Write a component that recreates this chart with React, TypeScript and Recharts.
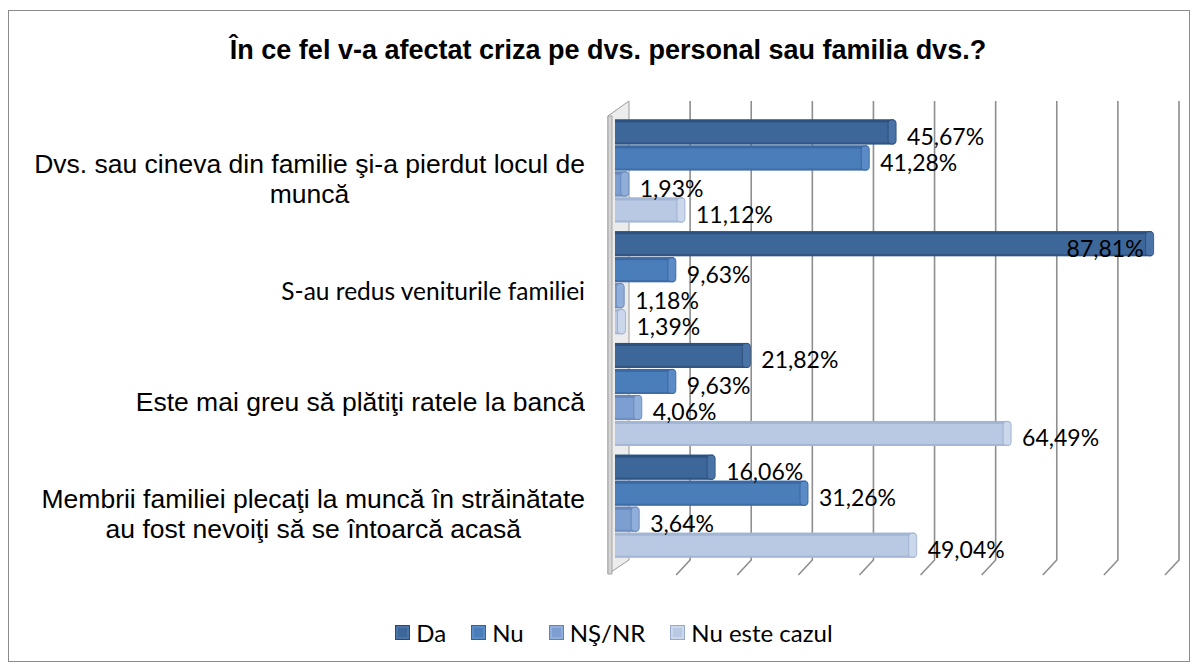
import { BarChart, Bar, XAxis, YAxis, CartesianGrid, LabelList } from "recharts";

const title = "În ce fel v-a afectat criza pe dvs. personal sau familia dvs.?";

const categories = [
  "Dvs. sau cineva din familie şi-a pierdut locul de\nmuncă",
  "S-au redus veniturile familiei",
  "Este mai greu să plătiţi ratele la bancă",
  "Membrii familiei plecaţi la muncă în străinătate\nau fost nevoiţi să se întoarcă acasă",
];

const seriesNames = ["Da", "Nu", "NŞ/NR", "Nu este cazul"];

const daValues = [45.67, 87.81, 21.82, 16.06];
const nuValues = [41.28, 9.63, 9.63, 31.26];
const nsValues = [1.93, 1.18, 4.06, 3.64];
const necValues = [11.12, 1.39, 64.49, 49.04];

const gridTicks = [0, 10, 20, 30, 40, 50, 60, 70, 80, 90];

const seriesKeys = ["da", "nu", "ns", "nec"];

const data = categories.map((name, i) => ({
  name,
  da: daValues[i],
  nu: nuValues[i],
  ns: nsValues[i],
  nec: necValues[i],
}));

const tones = [
  { base: "#3d6699", top: "#2d5282", cap: "#4a74a8", edge: "#2a4a74" },
  { base: "#4a7ebb", top: "#3b69a2", cap: "#5b8bc6", edge: "#36609a" },
  { base: "#7d9ed1", top: "#6888bb", cap: "#90aeda", edge: "#6283b6" },
  { base: "#b9c9e3", top: "#a2b5d4", cap: "#cbd7eb", edge: "#98aacb" },
];

const PLOT_RIGHT = 1156;

const fmt = (v: number) => v.toFixed(2).replace(".", ",") + "%";

function Bar3D(props: any) {
  const { x, y, width, height, tone } = props;
  if (width <= 0) return null;
  const t = tones[tone];
  const capW = Math.min(8, width + 2);
  return (
    <g>
      <rect x={x} y={y} width={width} height={height} fill={t.base} />
      <rect x={x} y={y} width={width} height={3} fill={t.top} />
      <rect x={x} y={y + height - 2} width={width} height={2} fill={t.edge} opacity={0.6} />
      <rect
        x={x + width - capW + 2}
        y={y + 0.5}
        width={capW}
        height={height - 1}
        rx={3}
        fill={t.cap}
        stroke={t.edge}
        strokeWidth={0.8}
      />
    </g>
  );
}

function ValueLabel(props: any) {
  const { x, y, width, height, value } = props;
  const text = fmt(value);
  const end = x + width;
  const inside = end + 85 > PLOT_RIGHT;
  return (
    <text
      x={inside ? end - 8 : end + 13}
      y={y + height / 2 + 4}
      textAnchor={inside ? "end" : "start"}
      dominantBaseline="central"
      fontFamily="Lato, 'Open Sans', sans-serif"
      fontWeight={400}
      fontSize={23}
      fill="#000"
    >
      {text}
    </text>
  );
}

function CategoryTick(props: any) {
  const { y, payload, index } = props;
  const lines = String(payload.value).split("\n");
  const narrow = index === 1;
  const right = 576;
  return (
    <foreignObject x={0} y={y - 60 + 8} width={right} height={120}>
      <div
        style={{
          display: "flex",
          justifyContent: "flex-end",
          alignItems: "center",
          height: "100%",
        }}
      >
        <div
          style={{
            textAlign: "center",
            whiteSpace: "nowrap",
            fontWeight: 400,
            fontFamily: narrow
              ? "Lato, 'Open Sans', sans-serif"
              : "'Liberation Sans', Arial, sans-serif",
            fontSize: narrow ? 24.5 : 26.5,
            lineHeight: "30px",
            color: "#000",
          }}
        >
          {lines.map((l, i) => (
            <div key={i}>{l}</div>
          ))}
        </div>
      </div>
    </foreignObject>
  );
}

function GridLine(props: any) {
  const { x1, y1, y2, index } = props;
  const d = `M${x1 + 14},${y1 - 14} L${x1 + 14},${y2 - 2} L${x1},${y2 + 13}`;
  if (index === 0) {
    return (
      <g>
        <polygon
          points={`${x1 - 7},${y1 + 1} ${x1 + 14},${y1 - 14} ${x1 + 14},${y2 - 2} ${x1 - 7},${y2 + 12}`}
          fill="#ececec"
          stroke="#9a9a9a"
          strokeWidth={1}
        />
        <rect x={x1 - 7} y={y1 + 1} width={4} height={y2 - y1 + 11} fill="#d4d4d4" stroke="#9a9a9a" strokeWidth={0.8} />
      </g>
    );
  }
  return <path d={d} stroke="#8e8e8e" strokeWidth={1.6} fill="none" />;
}

function LegendRow() {
  return (
    <div
      style={{
        position: "absolute",
        top: 607,
        left: 0,
        width: 1210,
        display: "flex",
        justifyContent: "center",
        gap: 25,
        fontFamily: "Lato, 'Open Sans', sans-serif",
        fontWeight: 400,
        fontSize: 24,
        color: "#000",
      }}
    >
      {seriesNames.map((n, i) => (
        <div key={n} style={{ display: "flex", alignItems: "center", gap: 6 }}>
          <span
            style={{
              width: 13,
              height: 13,
              background: tones[i].base,
              border: `1px solid ${tones[i].edge}`,
              boxShadow: `inset 0 0 0 2px ${tones[i].cap}`,
              display: "inline-block",
            }}
          />
          <span>{n}</span>
        </div>
      ))}
    </div>
  );
}

export default function App() {
  return (
    <div
      style={{
        position: "relative",
        width: 1180,
        height: 650,
        marginTop: 2,
        border: "1px solid #8c8c8c",
        background: "#fff",
      }}
    >
      <div
        style={{
          position: "absolute",
          top: 23,
          left: 0,
          width: 1198,
          textAlign: "center",
          fontFamily: "'Liberation Sans', Arial, sans-serif",
          fontWeight: "bold",
          fontSize: 27,
          lineHeight: "32px",
          color: "#000",
        }}
      >
        {title}
      </div>
      <BarChart
        width={1180}
        height={650}
        data={data}
        layout="vertical"
        margin={{ top: 104, right: 24, bottom: 99, left: 0 }}
        barCategoryGap="4%"
        barGap={1}
      >
        <CartesianGrid
          horizontal={false}
          vertical={GridLine}
          verticalValues={gridTicks}
        />
        <XAxis type="number" domain={[0, 90]} ticks={gridTicks} hide />
        <YAxis
          type="category"
          dataKey="name"
          width={606}
          axisLine={false}
          tickLine={false}
          tick={CategoryTick}
          interval={0}
        />
        {seriesKeys.map((k, i) => (
          <Bar
            key={k}
            dataKey={k}
            name={seriesNames[i]}
            isAnimationActive={false}
            shape={(p: any) => <Bar3D {...p} tone={i} />}
          >
            <LabelList dataKey={k} content={ValueLabel} />
          </Bar>
        ))}
      </BarChart>
      <LegendRow />
    </div>
  );
}
